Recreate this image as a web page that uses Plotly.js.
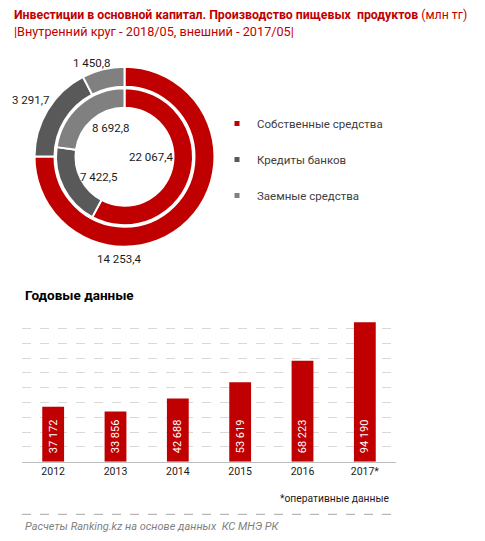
<!DOCTYPE html>
<html>
<head>
<meta charset="utf-8">
<script src="https://cdn.plot.ly/plotly-3.0.1.min.js"></script>
<style>html,body{margin:0;padding:0;background:#fff;}#chart{width:485px;height:541px;}</style>
</head>
<body>
<div id="chart"></div>
<script>
// ---- data ----
var sourceLabels = ["Собственные средства", "Кредиты банков", "Заемные средства"];
var innerValues = [22067.4, 7422.5, 8692.8];   // 2018/05
var outerValues = [14253.4, 3291.7, 1450.8];   // 2017/05
var years = ["2012", "2013", "2014", "2015", "2016", "2017*"];
var yearValues = [37172, 33856, 42688, 53619, 68223, 94190];

// ---- helpers ----
function fmt(v, dec) {
  var s = v.toFixed(dec);
  var parts = s.split(".");
  var intPart = parts[0].replace(/\B(?=(\d{3})+(?!\d))/g, " ");
  return parts.length > 1 ? intPart + "," + parts[1] : intPart;
}

var W = 485, H = 541;
function px(x) { return x / W; }
function py(y) { return 1 - y / H; }

var colors = ["#C00000", "#595959", "#808080"];
var FONT = "Roboto, 'Liberation Sans', sans-serif";

// donut geometry (px)
var cx = 124.5, cy = 156.7;
var rOuter = 90, rOuterIn = 70, rInner = 68.5, rInnerIn = 49;

var traces = [];
traces.push({
  type: "pie", values: outerValues, labels: sourceLabels, sort: false,
  direction: "clockwise", rotation: 0,
  hole: rOuterIn / rOuter,
  domain: { x: [px(cx - rOuter), px(cx + rOuter)], y: [py(cy + rOuter), py(cy - rOuter)] },
  marker: { colors: colors, line: { color: "#ffffff", width: 2 } },
  textinfo: "none", showlegend: false, hoverinfo: "label+value"
});
traces.push({
  type: "pie", values: innerValues, labels: sourceLabels, sort: false,
  direction: "clockwise", rotation: 0,
  hole: rInnerIn / rInner,
  domain: { x: [px(cx - rInner), px(cx + rInner)], y: [py(cy + rInner), py(cy - rInner)] },
  marker: { colors: colors, line: { color: "#ffffff", width: 2 } },
  textinfo: "none", showlegend: false, hoverinfo: "label+value"
});

// bars
traces.push({
  type: "bar", x: years, y: yearValues,
  text: yearValues.map(function (v) { return "\u00a0\u00a0" + fmt(v, 0); }),
  textposition: "inside", insidetextanchor: "start", textangle: -90,
  constraintext: "none",
  textfont: { family: FONT, size: 11, color: "#ffffff" },
  marker: { color: "#C00000" },
  showlegend: false, hoverinfo: "x+y", cliponaxis: false
});

// legend entries
for (var i = 0; i < sourceLabels.length; i++) {
  traces.push({
    type: "scatter", mode: "markers", x: [null], y: [null],
    name: sourceLabels[i], legendgroup: "g" + i,
    marker: { symbol: "square", size: 5, color: colors[i] },
    hoverinfo: "skip"
  });
}

// donut value labels
var outerLabelPos = [[119, 259.3], [31, 100], [91, 63]];
var innerLabelPos = [[151, 157.3], [99, 176.7], [110, 127.7]];
var annotations = [];
for (var j = 0; j < sourceLabels.length; j++) {
  annotations.push({ xref: "paper", yref: "paper", x: px(outerLabelPos[j][0]), y: py(outerLabelPos[j][1]),
    xanchor: "center", yanchor: "middle", showarrow: false, text: fmt(outerValues[j], 1),
    font: { family: FONT, size: 11.5, color: "#1a1a1a" } });
  annotations.push({ xref: "paper", yref: "paper", x: px(innerLabelPos[j][0]), y: py(innerLabelPos[j][1]),
    xanchor: "center", yanchor: "middle", showarrow: false, text: fmt(innerValues[j], 1),
    font: { family: FONT, size: 11.5, color: "#1a1a1a" } });
}
// title
annotations.push({ xref: "paper", yref: "paper", x: px(12), y: py(15), xanchor: "left", yanchor: "middle",
  showarrow: false, text: "<b>Инвестиции в основной капитал. Производство пищевых  продуктов</b> (млн тг)",
  font: { family: FONT, size: 12.3, color: "#C00000" } });
annotations.push({ xref: "paper", yref: "paper", x: px(12), y: py(31.5), xanchor: "left", yanchor: "middle",
  showarrow: false, text: "|Внутренний круг - 2018/05, внешний - 2017/05|",
  font: { family: FONT, size: 12.7, color: "#C00000" } });
annotations.push({ xref: "paper", yref: "paper", x: px(23), y: py(295), xanchor: "left", yanchor: "middle",
  showarrow: false, text: "<b>Годовые данные</b>", font: { family: FONT, size: 13.5, color: "#000000" } });
annotations.push({ xref: "paper", yref: "paper", x: px(391), y: py(498), xanchor: "right", yanchor: "middle",
  showarrow: false, text: "*оперативные данные", font: { family: FONT, size: 10.3, color: "#1a1a1a" } });
annotations.push({ xref: "paper", yref: "paper", x: px(23), y: py(526), xanchor: "left", yanchor: "middle",
  showarrow: false, text: "<i>Расчеты Ranking.kz на основе данных  КС МНЭ РК</i>", font: { family: FONT, size: 11, color: "#7F7F7F" } });

var layout = {
  width: W, height: H,
  margin: { l: 0, r: 0, t: 0, b: 0 },
  paper_bgcolor: "#ffffff", plot_bgcolor: "#ffffff",
  font: { family: FONT, color: "#262626" },
  xaxis: {
    domain: [px(22), px(396)], type: "category",
    showline: true, linecolor: "#BFBFBF", linewidth: 1,
    showgrid: false, ticks: "", fixedrange: true,
    tickfont: { family: FONT, size: 10.5, color: "#1a1a1a" }
  },
  yaxis: {
    domain: [py(461.7), py(313.3)], range: [0, 100300],
    dtick: 10000, tick0: 0, showticklabels: false, zeroline: false,
    showgrid: true, gridcolor: "#D9D9D9", griddash: "dash", gridwidth: 1, fixedrange: true
  },
  bargap: 0.65,
  showlegend: true,
  legend: {
    x: px(217), xanchor: "left", y: py(109), yanchor: "top",
    font: { family: FONT, size: 11.5, color: "#404040" },
    tracegroupgap: 17, itemsizing: "trace", bgcolor: "rgba(0,0,0,0)"
  },
  shapes: [{
    type: "line", xref: "paper", yref: "paper",
    x0: px(22), x1: px(396), y0: py(514.3), y1: py(514.3),
    line: { color: "#A6A6A6", width: 1, dash: "dash" }
  }],
  annotations: annotations
};

Plotly.newPlot("chart", traces, layout, { displayModeBar: false, staticPlot: true });
</script>
</body>
</html>
